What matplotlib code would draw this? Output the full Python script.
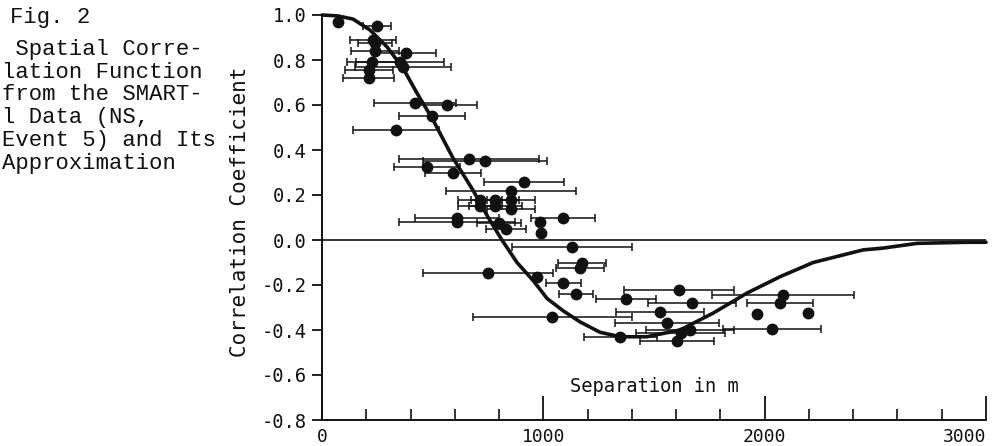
import matplotlib
matplotlib.use("Agg")
import matplotlib.pyplot as plt
from matplotlib import font_manager
from matplotlib.ticker import MultipleLocator

# ---- data ----
separation = [72, 249, 231, 240, 240, 380, 226, 353, 366, 212, 212, 420, 565, 497, 334,
              664, 737, 474, 592, 913, 854, 714, 782, 854, 714, 782, 854, 610, 610, 1090, 800, 832, 985, 990,
              1130, 1175, 1165, 750, 970, 1090, 1148, 1040,
              1613, 1374, 2083, 2070, 1672, 1966, 2196, 1528, 1560, 2034, 1663, 1347, 1620, 1604]
correlation = [0.97, 0.95, 0.89, 0.875, 0.84, 0.83, 0.79, 0.79, 0.77, 0.755, 0.72, 0.61, 0.60, 0.55, 0.49,
               0.36, 0.35, 0.325, 0.30, 0.26, 0.22, 0.18, 0.18, 0.18, 0.15, 0.15, 0.14, 0.10, 0.08, 0.10, 0.075, 0.05, 0.08, 0.03,
               -0.03, -0.10, -0.125, -0.145, -0.165, -0.19, -0.24, -0.34,
               -0.22, -0.26, -0.245, -0.28, -0.28, -0.33, -0.325, -0.32, -0.37, -0.395, -0.40, -0.43, -0.415, -0.45]
separation_err = [0, 63, 105, 77, 110, 135, 115, 200, 215, 110, 115, 185, 135, 150, 195,
                  317, 280, 150, 125, 180, 295, 100, 110, 110, 100, 120, 110, 190, 260, 145, 100, 90, 0, 0,
                  270, 110, 110, 295, 0, 80, 75, 360,
                  250, 135, 320, 150, 200, 0, 0, 200, 235, 220, 200, 165, 200, 165]

curve_x = [0, 70, 140, 217, 294, 366, 429, 502, 592, 683, 751, 813, 881, 954, 1017, 1090, 1166, 1256,
           1347, 1468, 1618, 1767, 1920, 2070, 2219, 2445, 2535, 2688, 2914, 3000]
curve_y = [1.0, 0.996, 0.982, 0.933, 0.858, 0.764, 0.653, 0.533, 0.364, 0.22, 0.10, 0.0, -0.10, -0.18,
           -0.26, -0.315, -0.364, -0.41, -0.43, -0.43, -0.40, -0.325, -0.236, -0.163, -0.10, -0.044,
           -0.036, -0.015, -0.01, -0.01]

yticks = [1.0, 0.8, 0.6, 0.4, 0.2, 0.0, -0.2, -0.4, -0.6, -0.8]
ytick_labels = ["1.0", "0.8", "0.6", "0.4", "0.2", "0.0", "-0.2", "-0.4", "-0.6", "-0.8"]
xticks = [0, 1000, 2000, 3000]
xtick_labels = ["0", "1000", "2000", "3000"]

caption_title = "Fig. 2"
caption_lines = [" Spatial Corre-", "lation Function", "from the SMART-",
                 "l Data (NS,", "Event 5) and Its", "Approximation"]
xlabel_text = "Separation in m"
ylabel_text = "Correlation Coefficient"

# ---- fonts ----
names = {f.name for f in font_manager.fontManager.ttflist}
label_font = "DejaVu Sans Mono"
caption_font = "Liberation Mono" if "Liberation Mono" in names else "DejaVu Sans Mono"

W, H = 995, 446
fig = plt.figure(figsize=(W / 100, H / 100), dpi=100)
ax = fig.add_axes([322 / W, 26 / H, (986 - 322) / W, (420 - 15) / H])

ink = "#111111"

ax.plot(curve_x, curve_y, color=ink, lw=2.6, solid_capstyle="round", clip_on=False, zorder=3)
ax.axhline(0, color=ink, lw=1.2, zorder=2)
ax.errorbar(separation, correlation, xerr=separation_err, fmt="o", color=ink, ms=7.5,
            elinewidth=1.1, capsize=3, capthick=1.1, zorder=4, clip_on=False)

ax.set_xlim(0, 3000)
ax.set_ylim(-0.8, 1.0)

for s in ["top", "right"]:
    ax.spines[s].set_visible(False)
for s in ["left", "bottom"]:
    ax.spines[s].set_linewidth(1.4)
    ax.spines[s].set_color(ink)

ax.set_yticks(yticks)
ax.set_yticklabels(ytick_labels, family=label_font, fontsize=13.5)
ax.set_xticks(xticks)
ax.set_xticklabels(xtick_labels, family=label_font, fontsize=13)
ax.get_xticklabels()[-1].set_horizontalalignment("right")
ax.xaxis.set_minor_locator(MultipleLocator(200))
ax.tick_params(axis="y", direction="out", length=7, width=1.3, pad=4, color=ink, labelcolor=ink)
ax.tick_params(axis="x", which="major", direction="in", length=17, width=1.3, pad=6, color=ink, labelcolor=ink)
ax.tick_params(axis="x", which="minor", direction="in", length=8, width=1.2, color=ink)

ax.text(1500, -0.65, xlabel_text, family=label_font, fontsize=13.5, ha="center", va="center", color=ink)
fig.text(240 / W, 1 - 212 / H, ylabel_text, family=label_font, fontsize=15, rotation=90,
         ha="center", va="center", color=ink)

fig.text(10 / W, 1 - 23 / H, caption_title, family=caption_font, fontsize=16, ha="left",
         va="baseline", color=ink)
for i, line in enumerate(caption_lines):
    fig.text(2 / W, 1 - (55 + 22.7 * i) / H, line, family=caption_font, fontsize=16,
             ha="left", va="baseline", color=ink)

fig.savefig("out.png", dpi=100, facecolor="white")
